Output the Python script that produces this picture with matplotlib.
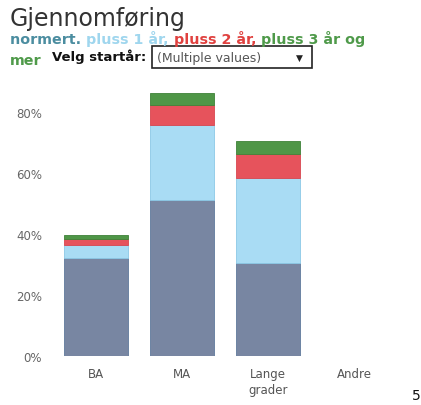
import matplotlib
matplotlib.use("Agg")
import matplotlib.pyplot as plt
from matplotlib.patches import Rectangle

categories = ["BA", "MA", "Lange\ngrader", "Andre"]
normert = [32.0, 51.1, 30.5, 0.0]
pluss1 = [4.4, 24.6, 27.9, 0.0]
pluss2 = [2.0, 6.6, 7.8, 0.0]
pluss3 = [1.3, 3.9, 4.3, 0.0]
yticks = [0, 20, 40, 60, 80]
ytick_labels = ["0%", "20%", "40%", "60%", "80%"]

colors = ["#7886a2", "#a9dcf4", "#e6535c", "#4f9647"]
edges = ["#5f7a9c", "#8cc8e6", "#d8464f", "#3f8238"]

W, H = 421, 406
fig = plt.figure(figsize=(W / 100, H / 100), dpi=100)
ax = fig.add_axes([53 / W, 1 - 357 / H, 344 / W, (357 - 82.5) / H])

x = list(range(len(categories)))
bottom = [0.0] * len(categories)
for vals, c, e in zip([normert, pluss1, pluss2, pluss3], colors, edges):
    ax.bar(x, vals, bottom=bottom, width=0.75, color=c, edgecolor=e, linewidth=0.6)
    bottom = [b + v for b, v in zip(bottom, vals)]

ax.set_xlim(-0.5, 3.5)
ax.set_ylim(0, 90)
ax.set_yticks(yticks)
ax.set_yticklabels(ytick_labels, color="#666666", fontsize=8.5)
ax.set_xticks(x)
ax.set_xticklabels(categories, color="#555555", fontsize=8.5, linespacing=1.3)
ax.tick_params(axis="y", length=0, pad=8)
ax.tick_params(axis="x", length=0, pad=8)
for s in ax.spines.values():
    s.set_visible(False)

# Title
fig.text(10 / W, 1 - 26 / H, "Gjennomføring", fontsize=17, color="#333333", va="baseline")

# Colored subtitle (pieces placed one after another)
parts = [("normert. ", "#4b8da0"), ("pluss 1 år, ", "#9fd6ee"),
         ("pluss 2 år, ", "#e0413f"), ("pluss 3 år og", "#4f9a4a")]
renderer = fig.canvas.get_renderer()
xpos = 10 / W
for txt, col in parts:
    tt = fig.text(xpos, 1 - 44 / H, txt, fontsize=10.3, color=col, va="baseline",
                  fontweight="semibold")
    bb = tt.get_window_extent(renderer=renderer)
    xpos = bb.x1 / W

fig.text(10 / W, 1 - 65 / H, "mer", fontsize=10.3, color="#4f9a4a", va="baseline",
         fontweight="semibold")
fig.text(52 / W, 1 - 61 / H, "Velg startår:", fontsize=9.5, color="#111111",
         va="baseline", fontweight="semibold")
fig.patches.append(Rectangle((152 / W, 1 - 69 / H), 160 / W, 22 / H, transform=fig.transFigure,
                             facecolor="white", edgecolor="#222222", linewidth=1.2))
fig.text(157 / W, 1 - 62 / H, "(Multiple values)", fontsize=9, color="#555555", va="baseline")
fig.text(296 / W, 1 - 61 / H, "▼", fontsize=6.5, color="#222222", va="baseline")

fig.text(412 / W, 1 - 400 / H, "5", fontsize=10, color="#111111", va="baseline")

fig.savefig("out.png", dpi=100)
